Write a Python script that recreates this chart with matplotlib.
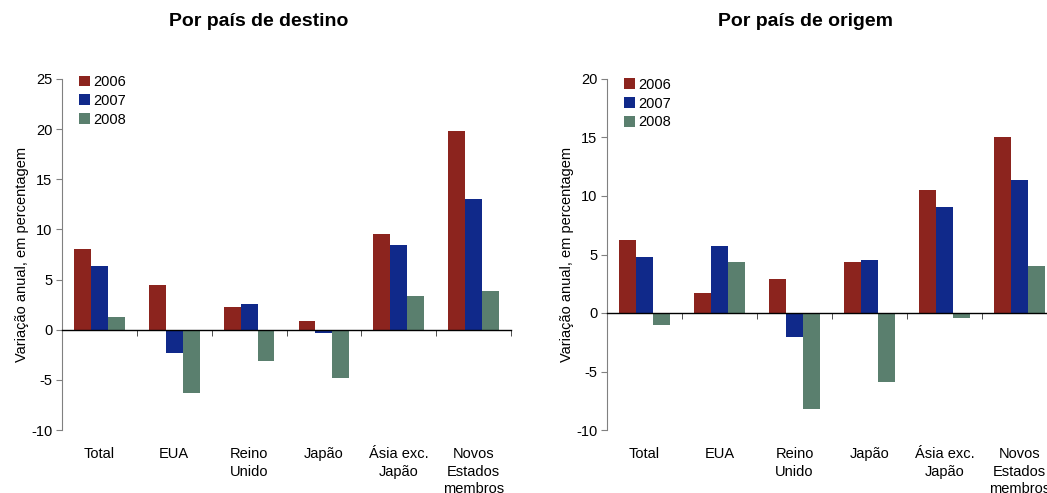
import numpy as np
import matplotlib
matplotlib.use('Agg')
import matplotlib.pyplot as plt

plt.rcParams['font.family'] = ['Liberation Sans', 'DejaVu Sans']

categories = ['Total', 'EUA', 'Reino\nUnido', 'Japão', 'Ásia exc.\nJapão',
              'Novos\nEstados\nmembros']
years = ['2006', '2007', '2008']

# Por país de destino
dest_2006 = [8.0, 4.45, 2.3, 0.85, 9.5, 19.8]
dest_2007 = [6.35, -2.3, 2.55, -0.35, 8.4, 13.05]
dest_2008 = [1.25, -6.35, -3.1, -4.8, 3.4, 3.85]

# Por país de origem
orig_2006 = [6.2, 1.7, 2.9, 4.35, 10.5, 15.05]
orig_2007 = [4.75, 5.7, -2.05, 4.55, 9.05, 11.4]
orig_2008 = [-1.05, 4.4, -8.2, -5.9, -0.4, 4.0]

COLORS = ['#8C241E', '#10298A', '#5A7F6E']
AXIS_GREY = '#808080'
FS = 10.5

fig = plt.figure(figsize=(10.47, 4.93), dpi=100)


def draw_panel(ax, series, ylim, yticks, leg_y):
    x = np.arange(len(categories))
    w = 0.225
    for k, (vals, col, yr) in enumerate(zip(series, COLORS, years)):
        ax.bar(x + (k - 1) * w, vals, width=w, color=col, label=yr,
               edgecolor='none', zorder=2)
    ax.set_xlim(-0.5, len(categories) - 0.5)
    ax.set_ylim(*ylim)
    ax.set_yticks(yticks)
    ax.set_yticklabels([str(v) for v in yticks], fontsize=FS)

    ax.spines['right'].set_visible(False)
    ax.spines['bottom'].set_visible(False)
    ax.spines['left'].set_color(AXIS_GREY)
    ax.spines['top'].set_position(('data', 0))
    ax.spines['top'].set_color('black')
    ax.spines['top'].set_linewidth(1.0)
    ax.spines['top'].set_zorder(3)

    # category labels under the plot, boundary ticks on the zero line
    ax.set_xticks(x)
    ax.set_xticklabels(categories, fontsize=FS, linespacing=1.35)
    ax.set_xticks(x + 0.5, minor=True)
    ax.tick_params(axis='x', which='major', bottom=True, top=False,
                   length=0, pad=12)
    ax.tick_params(axis='x', which='minor', bottom=False, top=True,
                   direction='in', length=4, color='#333333')
    ax.tick_params(axis='y', length=4, color=AXIS_GREY, pad=3)

    ax.set_ylabel('Variação anual, em percentagem', fontsize=FS, labelpad=1.5)
    ax.legend(loc='upper left', bbox_to_anchor=(0.025, leg_y), frameon=False,
              fontsize=FS, handlelength=0.75, handleheight=0.75,
              handletextpad=0.2, labelspacing=0.33, borderaxespad=0)


ax1 = fig.add_axes([62 / 1047, 1 - 430 / 493, 449 / 1047, 351 / 493])
draw_panel(ax1, [dest_2006, dest_2007, dest_2008], (-10, 25),
           [-10, -5, 0, 5, 10, 15, 20, 25], 1.028)

ax2 = fig.add_axes([607 / 1047, 1 - 430 / 493, 450 / 1047, 351 / 493])
draw_panel(ax2, [orig_2006, orig_2007, orig_2008], (-10, 20),
           [-10, -5, 0, 5, 10, 15, 20], 1.02)

fig.text(259 / 1047, 1 - 21 / 493, 'Por país de destino', ha='center',
         va='center', fontsize=14, fontweight='bold')
fig.text(806 / 1047, 1 - 22 / 493, 'Por país de origem', ha='center',
         va='center', fontsize=14, fontweight='bold')

fig.savefig('out.png', dpi=100, facecolor='white')
